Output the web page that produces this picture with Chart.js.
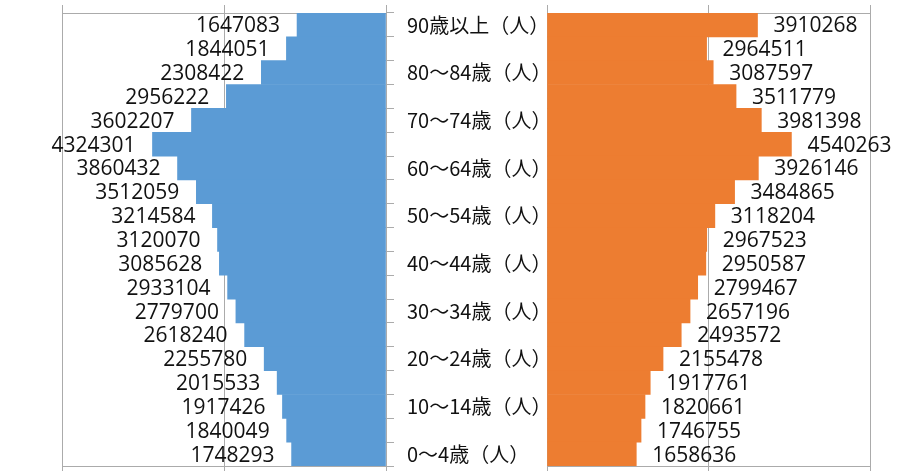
<!DOCTYPE html>
<html>
<head>
<meta charset="utf-8">
<script src="https://cdn.jsdelivr.net/npm/chart.js@4"></script>
<style>
  html, body { margin: 0; padding: 0; background: #fff; overflow: hidden; }
  body { width: 924px; height: 471px; position: relative; }
  .pane { position: absolute; top: 0; height: 474px; }
  #leftPane { left: 0; width: 560px; }
  #rightPane { left: 540px; width: 384px; }
</style>
</head>
<body>
<div id="leftPane" class="pane"><canvas id="maleChart"></canvas></div>
<div id="rightPane" class="pane"><canvas id="femaleChart"></canvas></div>
<script>
// age groups, top row first
const ageGroups = [
  '90歳以上（人）', '85～89歳（人）', '80～84歳（人）', '75～79歳（人）',
  '70～74歳（人）', '65～69歳（人）', '60～64歳（人）', '55～59歳（人）',
  '50～54歳（人）', '45～49歳（人）', '40～44歳（人）', '35～39歳（人）',
  '30～34歳（人）', '25～29歳（人）', '20～24歳（人）', '15～19歳（人）',
  '10～14歳（人）', '5～9歳（人）', '0～4歳（人）'
];
const maleValues = [
  1647083, 1844051, 2308422, 2956222, 3602207, 4324301, 3860432, 3512059,
  3214584, 3120070, 3085628, 2933104, 2779700, 2618240, 2255780, 2015533,
  1917426, 1840049, 1748293
];
const femaleValues = [
  3910268, 2964511, 3087597, 3511779, 3981398, 4540263, 3926146, 3484865,
  3118204, 2967523, 2950587, 2799467, 2657196, 2493572, 2155478, 1917761,
  1820661, 1746755, 1658636
];
const axisMax = 6000000;
const axisStep = 3000000;

const GRID = '#ababab';
const TEXT = '#111';

// value labels at the outer end of each bar
const endLabels = {
  id: 'endLabels',
  afterDatasetsDraw(chart, args, opts) {
    const ctx = chart.ctx;
    const meta = chart.getDatasetMeta(0);
    const values = chart.data.datasets[0].data;
    ctx.save();
    ctx.font = '21px "Open Sans"';
    ctx.fillStyle = TEXT;
    ctx.textBaseline = 'middle';
    ctx.textAlign = opts.side === 'left' ? 'right' : 'left';
    meta.data.forEach((bar, i) => {
      const x = opts.side === 'left' ? bar.x - 17 : bar.x + 16;
      ctx.fillText(String(values[i]), x, bar.y + 1.5);
    });
    ctx.restore();
  }
};

function valueAxes(reverse) {
  const grid = { color: GRID, lineWidth: 1, drawTicks: true, tickLength: 8 };
  return {
    x: {
      type: 'linear', position: 'bottom', min: 0, max: axisMax, reverse: reverse,
      ticks: { display: false, stepSize: axisStep },
      grid: grid,
      border: { display: true, color: GRID }
    },
    x2: {
      type: 'linear', position: 'top', min: 0, max: axisMax, reverse: reverse,
      ticks: { display: false, stepSize: axisStep },
      grid: Object.assign({}, grid, { drawOnChartArea: false }),
      border: { display: true, color: GRID }
    }
  };
}

const maleScales = valueAxes(true);
maleScales.y = {
  type: 'category',
  position: 'right',
  grid: { display: true, drawOnChartArea: false, drawTicks: true, tickLength: 8, color: GRID, offset: true },
  border: { display: true, color: GRID },
  ticks: {
    autoSkip: false,
    padding: 13,
    color: TEXT,
    font: { family: '"Noto Sans CJK JP"', size: 20 },
    callback: function (value, index) {
      return index % 2 === 0 ? this.getLabelForValue(value) : '';
    }
  },
  afterFit(scale) {
    scale.width = 174;
    // keep the label padding from shrinking the plot vertically
    scale.paddingTop = 0;
    scale.paddingBottom = 0;
  }
};

new Chart(document.getElementById('maleChart'), {
  type: 'bar',
  data: {
    labels: ageGroups,
    datasets: [{
      label: '男',
      data: maleValues,
      backgroundColor: '#5b9bd5',
      barPercentage: 1,
      categoryPercentage: 1
    }]
  },
  options: {
    indexAxis: 'y',
    responsive: true,
    maintainAspectRatio: false,
    animation: false,
    layout: { padding: { left: 62, top: 5, right: 0, bottom: 0 } },
    scales: maleScales,
    plugins: {
      legend: { display: false },
      tooltip: { enabled: false },
      endLabels: { side: 'left' }
    }
  },
  plugins: [endLabels]
});

const femaleScales = valueAxes(false);
femaleScales.y = { type: 'category', display: false };

new Chart(document.getElementById('femaleChart'), {
  type: 'bar',
  data: {
    labels: ageGroups,
    datasets: [{
      label: '女',
      data: femaleValues,
      backgroundColor: '#ed7d31',
      barPercentage: 1,
      categoryPercentage: 1
    }]
  },
  options: {
    indexAxis: 'y',
    responsive: true,
    maintainAspectRatio: false,
    animation: false,
    layout: { padding: { left: 7, top: 5, right: 54, bottom: 0 } },
    scales: femaleScales,
    plugins: {
      legend: { display: false },
      tooltip: { enabled: false },
      endLabels: { side: 'right' }
    }
  },
  plugins: [endLabels]
});
</script>
</body>
</html>
